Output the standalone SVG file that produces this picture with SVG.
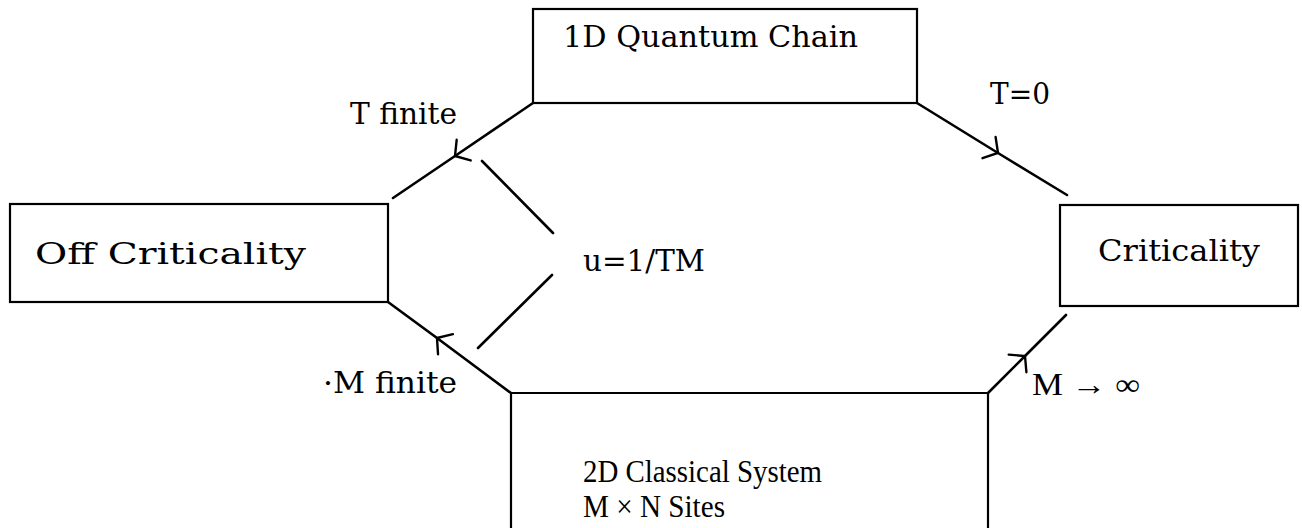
<svg xmlns="http://www.w3.org/2000/svg" width="1302" height="528" viewBox="0 0 1302 528">
  <style>
    .box { fill: #fff; stroke: #000; stroke-width: 2.2; }
    .edge { fill: none; stroke: #000; stroke-width: 2.6; stroke-linecap: round; stroke-linejoin: round; }
    .label { font-family: "DejaVu Serif", "Liberation Serif", serif; font-size: 30px; fill: #000; }
    .roman { font-family: "Liberation Serif", "Times New Roman", serif; font-size: 31px; fill: #000; }
  </style>
  <defs>
    <!-- open arrowhead placed at the middle vertex of each connector -->
    <marker id="barb" markerUnits="userSpaceOnUse" orient="auto" markerWidth="34" markerHeight="34" refX="17" refY="17" viewBox="0 0 34 34" overflow="visible">
      <path d="M 6.5 4.5 L 17 17 L 6.5 29.5" fill="none" stroke="#000" stroke-width="2.4" stroke-linecap="round"/>
    </marker>
  </defs>

  <rect width="1302" height="528" fill="#fff"/>

  <!-- connectors -->
  <g id="connectors">
    <polyline class="edge" points="533,103 455,156 393,198" marker-mid="url(#barb)"/>
    <polyline class="edge" points="511,393 437,338 388,302" marker-mid="url(#barb)"/>
    <polyline class="edge" points="917,103 998,153 1067,195" marker-mid="url(#barb)"/>
    <polyline class="edge" points="988,393 1025,356 1066,315" marker-mid="url(#barb)"/>
    <line class="edge" x1="482" y1="161" x2="553" y2="233"/>
    <line class="edge" x1="552" y1="275" x2="478" y2="348"/>
    <text class="label" x="350" y="124" textLength="107" lengthAdjust="spacingAndGlyphs">T finite</text>
    <text class="label" x="990" y="104" textLength="60" lengthAdjust="spacingAndGlyphs">T=0</text>
    <text class="label" x="583" y="271" textLength="122" lengthAdjust="spacingAndGlyphs">u=1/TM</text>
    <text class="label" x="323" y="393" textLength="134" lengthAdjust="spacingAndGlyphs">·M finite</text>
    <text class="roman" x="1032" y="395" textLength="108" lengthAdjust="spacingAndGlyphs">M → ∞</text>
  </g>

  <g id="quantum-chain">
    <rect class="box" x="533" y="9" width="384" height="94"/>
    <text class="label" x="563" y="47" textLength="295" lengthAdjust="spacingAndGlyphs">1D Quantum Chain</text>
  </g>

  <g id="off-criticality">
    <rect class="box" x="10" y="204" width="378" height="98"/>
    <text class="label" x="35" y="264" textLength="271" lengthAdjust="spacingAndGlyphs">Off Criticality</text>
  </g>

  <g id="criticality">
    <rect class="box" x="1060" y="205" width="238" height="101"/>
    <text class="label" x="1098" y="261" textLength="162" lengthAdjust="spacingAndGlyphs">Criticality</text>
  </g>

  <g id="classical-system">
    <path class="box" d="M 511 530 L 511 393 L 988 393 L 988 530"/>
    <text class="roman" x="583" y="482" textLength="239" lengthAdjust="spacingAndGlyphs">2D Classical System</text>
    <text class="roman" x="583" y="517" textLength="142" lengthAdjust="spacingAndGlyphs">M × N Sites</text>
  </g>
</svg>
